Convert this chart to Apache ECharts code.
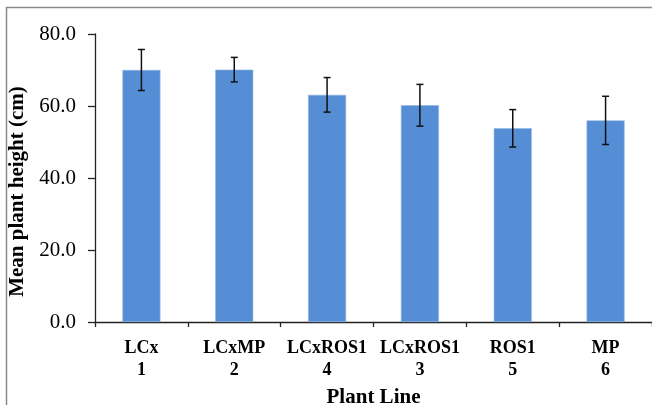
<!DOCTYPE html>
<html>
<head>
<meta charset="utf-8">
<script src="https://cdn.jsdelivr.net/npm/echarts@6/dist/echarts.min.js"></script>
<style>
html,body{margin:0;padding:0;background:#fff;}
#c{width:652px;height:405px;}
</style>
</head>
<body>
<div id="c"></div>
<script>
var categories = ['LCx\n1', 'LCxMP\n2', 'LCxROS1\n4', 'LCxROS1\n3', 'ROS1\n5', 'MP\n6'];
var meanHeight = [70.0, 70.1, 63.1, 60.2, 53.8, 56.0];
var errorSize = [5.7, 3.4, 4.8, 5.8, 5.2, 6.7];
var yTicks = [0, 20, 40, 60, 80];

var errData = meanHeight.map(function (v, i) { return [i, v - errorSize[i], v + errorSize[i]]; });

var chart = echarts.init(document.getElementById('c'), null, { renderer: 'canvas' });
chart.setOption({
  animation: false,
  backgroundColor: '#fff',
  graphic: [{
    type: 'rect',
    shape: { x: 6.5, y: 7.5, width: 800, height: 600 },
    style: { fill: 'none', stroke: '#8a8a8a', lineWidth: 1.5 },
    silent: true, z: -10
  }],
  grid: { left: 95, right: 0, top: 34, bottom: 83, containLabel: false, outerBoundsMode: 'none' },
  xAxis: {
    type: 'category',
    data: categories,
    name: 'Plant Line',
    nameLocation: 'middle',
    nameGap: 65,
    nameTextStyle: { fontFamily: 'Liberation Serif', fontWeight: 'bold', fontSize: 21, color: '#000' },
    axisLine: { lineStyle: { color: '#222', width: 1.3 } },
    axisTick: { show: true, alignWithLabel: false, length: 5, lineStyle: { color: '#222', width: 1.3 } },
    axisLabel: { interval: 0, margin: 15, fontFamily: 'Liberation Serif', fontWeight: 'bold', fontSize: 18, lineHeight: 22, color: '#000' }
  },
  yAxis: {
    type: 'value',
    min: yTicks[0], max: yTicks[yTicks.length - 1], interval: 20,
    name: 'Mean plant height (cm)',
    nameLocation: 'middle',
    nameGap: 63,
    nameRotate: 90,
    nameTextStyle: { fontFamily: 'Liberation Serif', fontWeight: 'bold', fontSize: 21, color: '#000', padding: [0, 27, 0, 0] },
    axisLine: { show: true, lineStyle: { color: '#222', width: 1.3 } },
    axisTick: { show: true, length: 7, lineStyle: { color: '#222', width: 1.3 } },
    splitLine: { show: false },
    axisLabel: { margin: 19, fontFamily: 'Liberation Serif', fontSize: 21, color: '#000', formatter: function (v) { return v.toFixed(1); } }
  },
  series: [{
    type: 'bar',
    data: meanHeight,
    barWidth: 38,
    itemStyle: { color: '#558ed5', borderColor: '#8eb4e3', borderWidth: 0.6 },
    z: 2
  }, {
    type: 'custom',
    data: errData,
    z: 5,
    renderItem: function (params, api) {
      var x = api.value(0);
      var lo = api.coord([x, api.value(1)]);
      var hi = api.coord([x, api.value(2)]);
      var cap = 3.5;
      var st = { stroke: '#111', lineWidth: 1.5 };
      return {
        type: 'group',
        children: [
          { type: 'line', shape: { x1: lo[0], y1: lo[1], x2: hi[0], y2: hi[1] }, style: st },
          { type: 'line', shape: { x1: hi[0] - cap, y1: hi[1], x2: hi[0] + cap, y2: hi[1] }, style: st },
          { type: 'line', shape: { x1: lo[0] - cap, y1: lo[1], x2: lo[0] + cap, y2: lo[1] }, style: st }
        ]
      };
    }
  }]
});
</script>
</body>
</html>
